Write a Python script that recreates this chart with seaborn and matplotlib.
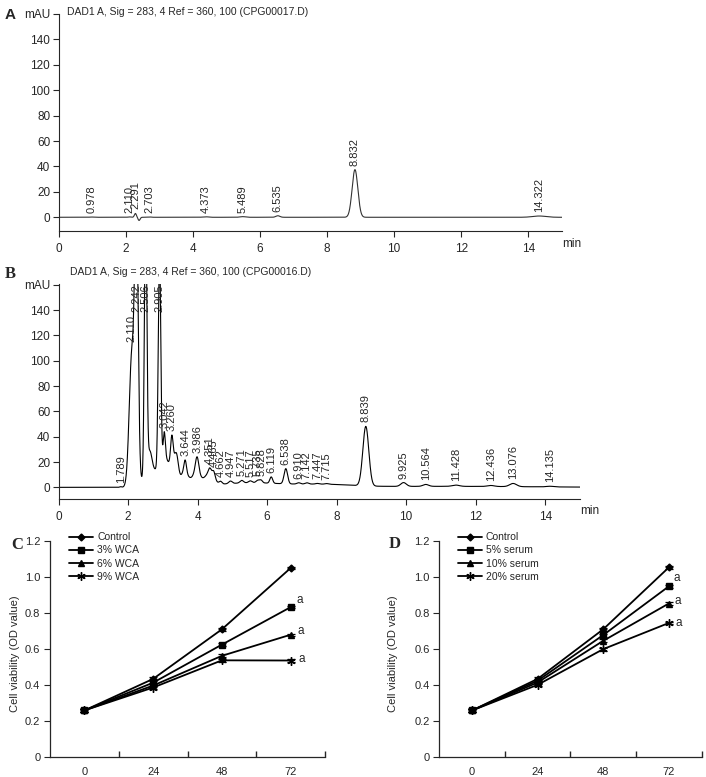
import numpy as np
import pandas as pd
import matplotlib
matplotlib.use("Agg")
import matplotlib.pyplot as plt
import seaborn as sns

sns.set_style("ticks")
plt.rcParams['font.family'] = ['Liberation Sans', 'DejaVu Sans']

# ---------------- data ----------------
# Panel A chromatogram: labelled peaks (retention time, height mAU, width min)
A_rt = [0.978, 2.110, 2.291, 2.703, 4.373, 5.489, 6.535, 8.832, 14.322]
A_h = [0.2, 0.3, 3.0, 0.3, 0.4, 0.5, 1.2, 37.5, 1.0]
A_w = [0.05, 0.04, 0.03, 0.05, 0.08, 0.08, 0.06, 0.085, 0.2]
# unlabelled baseline features (negative dip after 2.291)
A_bg_rt = [2.40]
A_bg_h = [-2.5]
A_bg_w = [0.03]

# Panel B chromatogram
B_rt = [1.789, 2.110, 2.242, 2.506, 2.905, 3.042, 3.260, 3.644, 3.986, 4.351,
        4.465, 4.662, 4.947, 5.271, 5.517, 5.735, 5.828, 6.119, 6.538, 6.910,
        7.142, 7.447, 7.715, 8.839, 9.925, 10.564, 11.428, 12.436, 13.076, 14.135]
B_h = [0.5, 105, 210, 220, 175, 20, 20, 9, 10, 4,
       5, 2, 2, 2, 1.5, 2, 2, 5, 12, 1,
       1, 0.5, 0.5, 47, 3, 1.5, 1, 0.8, 2.5, 0.5]
B_w = [0.03, 0.075, 0.05, 0.035, 0.035, 0.03, 0.035, 0.035, 0.045, 0.04,
       0.04, 0.04, 0.05, 0.05, 0.05, 0.05, 0.04, 0.04, 0.05, 0.05,
       0.05, 0.05, 0.05, 0.085, 0.08, 0.08, 0.1, 0.1, 0.1, 0.1]
B_bg_rt = [2.40, 2.62, 2.80, 3.05, 3.30, 3.40, 3.62, 3.80, 3.98, 4.35, 5.5, 7.6, 11.0]
B_bg_h = [5, 26, 12, 22, 18, 12, 7, 6, 8, 8, 3.5, 2.0, 0.8]
B_bg_w = [0.06, 0.07, 0.10, 0.10, 0.10, 0.05, 0.08, 0.35, 0.08, 0.12, 0.9, 0.8, 2.5]

title_A = "DAD1 A, Sig = 283, 4 Ref = 360, 100 (CPG00017.D)"
title_B = "DAD1 A, Sig = 283, 4 Ref = 360, 100 (CPG00016.D)"

# Panels C / D cell viability
times = ["0", "24", "48", "72"]
C_groups = ["Control", "3% WCA", "6% WCA", "9% WCA"]
C_vals = [[0.26, 0.435, 0.71, 1.05],
          [0.26, 0.414, 0.625, 0.833],
          [0.26, 0.398, 0.563, 0.68],
          [0.26, 0.387, 0.538, 0.537]]
D_groups = ["Control", "5% serum", "10% serum", "20% serum"]
D_vals = [[0.26, 0.435, 0.71, 1.053],
          [0.26, 0.425, 0.678, 0.948],
          [0.26, 0.415, 0.646, 0.853],
          [0.26, 0.402, 0.60, 0.745]]
err = [0.006, 0.008, 0.008, 0.006]
markers = ["D", "s", "^", (6, 2, 0)]
msizes = [3.5, 4.5, 5, 6]

W, H = 706, 777
fig = plt.figure(figsize=(W / 100, H / 100), dpi=100)


def rect(x0, y_top, x1, y_bot):
    return [x0 / W, 1 - y_bot / H, (x1 - x0) / W, (y_bot - y_top) / H]


t = np.linspace(0, 15, 4001)


def trace(rts, hs, ws):
    y = np.zeros_like(t)
    for r, h, w in zip(rts, hs, ws):
        y += h * np.exp(-0.5 * ((t - r) / w) ** 2)
    return y


def chrom(ax, rts, hs, ws, bgr, bgh, bgw, ylim, color, title, title_xy):
    y = trace(rts, hs, ws) + trace(bgr, bgh, bgw)
    sns.lineplot(x=t, y=y, ax=ax, color=color, lw=0.8)
    ax.set_xlim(0, 15)
    ax.set_ylim(*ylim)
    ax.set_xticks(range(0, 15, 2))
    ax.set_yticks(range(0, 161, 20))
    ax.set_yticklabels([str(v) for v in range(0, 141, 20)] + ["mAU"])
    ax.tick_params(axis='both', labelsize=8.5, length=4, width=0.8, direction='out', pad=2)
    ax.tick_params(axis='x', pad=5)
    for s in ['top', 'right']:
        ax.spines[s].set_visible(False)
    for s in ['left', 'bottom']:
        ax.spines[s].set_linewidth(0.8)
    ax.set_xlabel("")
    ax.set_ylabel("")
    top = ylim[1]
    for r in rts:
        yy = np.interp(r, t, y)
        lab = f"{r:.3f}"
        if yy > top - 15:
            ax.text(r, top, lab, rotation=90, ha='center', va='top', fontsize=8, clip_on=False)
        else:
            ax.annotate(lab, (r, yy), xytext=(0, 4), textcoords='offset pixels',
                        rotation=90, ha='center', va='bottom', fontsize=8)
    ax.text(1.0, -0.03, "min", transform=ax.transAxes, ha='left', va='top', fontsize=8.5)
    fig.text(title_xy[0] / W, 1 - title_xy[1] / H, title, ha='left', va='center', fontsize=7.5)


axA = fig.add_axes(rect(58.5, 14, 562, 231))
chrom(axA, A_rt, A_h, A_w, A_bg_rt, A_bg_h, A_bg_w, (-10.8, 160), "#333333", title_A, (67, 12))

axB = fig.add_axes(rect(58.5, 284.3, 580, 499))
chrom(axB, B_rt, B_h, B_w, B_bg_rt, B_bg_h, B_bg_w, (-9.2, 160.3), "black", title_B, (70, 272))


def viab(ax, groups, vals, a_offsets):
    x = np.arange(len(times))
    for g, v, m, ms in zip(groups, vals, markers, msizes):
        sns.lineplot(x=x, y=v, ax=ax, color='black', lw=1.3, marker=m, markersize=ms,
                     mew=1.0, mec='black', label=g)
        ax.errorbar(x, v, yerr=err, fmt='none', ecolor='black', elinewidth=0.9, capsize=3,
                    capthick=0.9)
    ax.set_xlim(-0.5, 3.5)
    ax.set_ylim(0, 1.2)
    ax.set_xticks(x)
    ax.set_xticklabels(times)
    ax.set_xticks(np.arange(-0.5, 3.6, 1.0)[1:], minor=True)
    ax.tick_params(axis='x', which='major', length=0, labelsize=8, pad=7)
    ax.tick_params(axis='x', which='minor', length=4, width=1.0, direction='in')
    ax.set_yticks(np.arange(0, 1.21, 0.2))
    ax.set_yticklabels(["0", "0.2", "0.4", "0.6", "0.8", "1.0", "1.2"])
    ax.tick_params(axis='y', length=4, width=0.8, labelsize=8, pad=3)
    for s in ['top', 'right']:
        ax.spines[s].set_visible(False)
    for s in ['left', 'bottom']:
        ax.spines[s].set_linewidth(0.9)
    ax.set_xlabel("")
    ax.set_ylabel("")
    for v, off in zip(vals[1:], a_offsets):
        ax.annotate("a", (3, v[3]), xytext=off, textcoords='offset pixels', ha='center',
                    va='center', fontsize=8.5)
    ax.legend(loc='upper left', bbox_to_anchor=(0.07, 1.04), frameon=False,
              fontsize=7.5, handlelength=2.3, labelspacing=0.3, handletextpad=0.4,
              borderaxespad=0, borderpad=0)


axC = fig.add_axes(rect(50, 541, 325, 757.3))
viab(axC, C_groups, C_vals, [(9, 7), (10, 4), (11, 2)])
axD = fig.add_axes(rect(439.3, 541, 701.5, 757.3))
viab(axD, D_groups, D_vals, [(8, 8), (9, 3), (10, 0)])

fig.text(15 / W, 1 - 654 / H, "Cell viability (OD value)", rotation=90, ha='center',
         va='center', fontsize=8)
fig.text(393 / W, 1 - 654 / H, "Cell viability (OD value)", rotation=90, ha='center',
         va='center', fontsize=8)

# panel letters
fig.text(10.5 / W, 1 - 15 / H, "A", fontsize=11, fontweight='bold', ha='center', va='center')
for lab, (px, py) in zip(["B", "C", "D"], [(10, 274), (16.7, 545), (395, 544)]):
    fig.text(px / W, 1 - py / H, lab, fontsize=12, fontweight='bold', ha='center', va='center',
             family=['Liberation Serif', 'DejaVu Serif'])

fig.savefig("out.png", dpi=100)
